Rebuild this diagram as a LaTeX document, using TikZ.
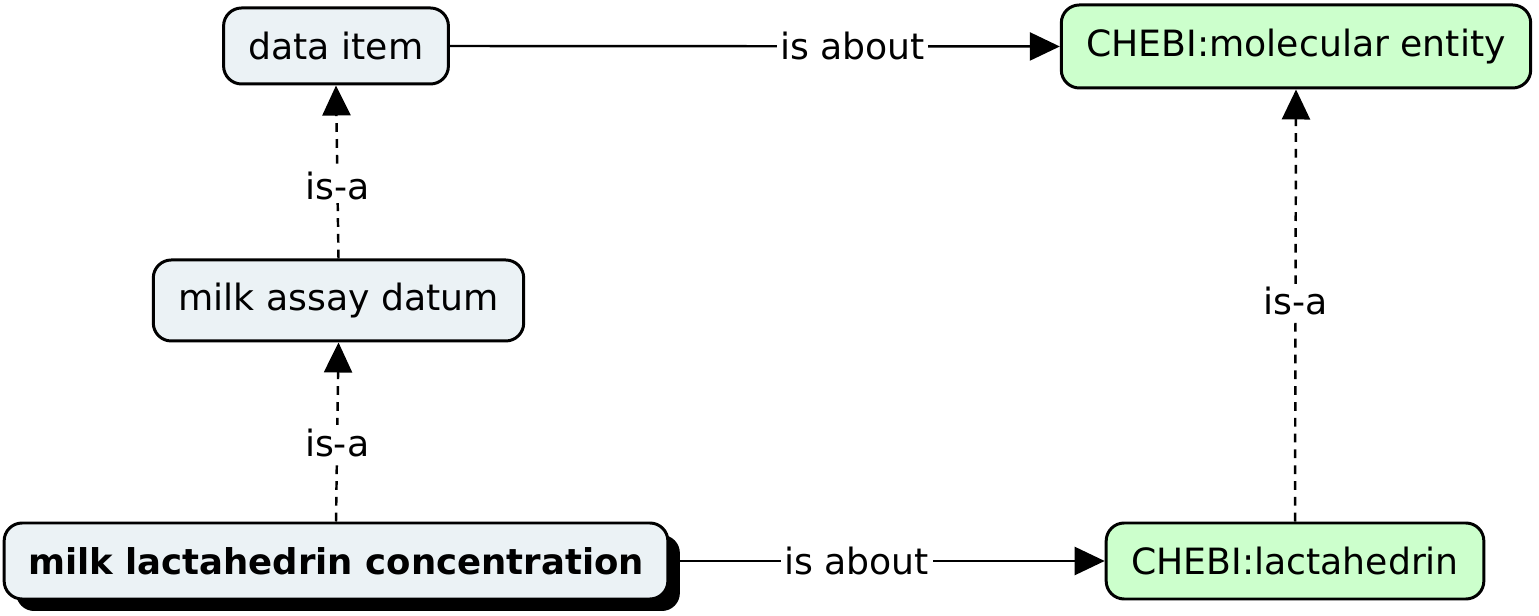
\documentclass[tikz,border=0pt]{standalone}
\usepackage{fontspec}
\setmainfont{DejaVu Sans}
\usepackage{tikz}
\usetikzlibrary{arrows.meta,positioning,shadows}
\definecolor{cmgray}{RGB}{235,242,245}
\definecolor{cmgreen}{RGB}{204,255,204}

\begin{document}
\begin{tikzpicture}[
    concept/.style={draw,line width=0.85pt,rounded corners=0.18cm,fill=cmgray,
        inner xsep=0.25cm,minimum height=0.76cm,font=\fontsize{10.3}{12}\selectfont},
    chebi/.style={concept,fill=cmgreen},
    isa/.style={-{Triangle[length=0.3cm,width=0.28cm]},line width=0.7pt,dash pattern=on 2.5pt off 2pt},
    about/.style={-{Triangle[length=0.3cm,width=0.28cm]},line width=0.7pt},
    lbl/.style={fill=white,inner sep=1pt,font=\fontsize{10.3}{12}\selectfont}]
  \useasboundingbox (0,0) rectangle (15.39,-6.16);
  \node[concept] (item) at (3.36,-0.46) {data item};
  \node[chebi,minimum height=0.83cm] (entity) at (12.96,-0.465) {CHEBI:molecular entity};
  \node[concept,minimum height=0.81cm] (assay) at (3.385,-3.005) {milk assay datum};
  \node[concept,font=\fontsize{10.1}{12}\selectfont\bfseries,inner xsep=0.24cm,
        drop shadow={shadow xshift=0.12cm,shadow yshift=-0.12cm,fill=black,opacity=1}]
        (conc) at (3.36,-5.61) {milk lactahedrin concentration};
  \node[chebi] (lact) at (12.95,-5.61) {CHEBI:lactahedrin};
  \draw[about] (item.east) -- node[lbl,pos=0.66] {is about} (entity.west);
  \draw[about] (conc.east) -- node[lbl,pos=0.43] {is about} (lact.west);
  \draw[isa] (assay.north) -- node[lbl,pos=0.42] {is-a} (item.south);
  \draw[isa] (conc.north) -- node[lbl,pos=0.44] {is-a} (assay.south);
  \draw[isa] (lact.north) -- node[lbl,pos=0.51] {is-a} (entity.south);
\end{tikzpicture}
\end{document}
